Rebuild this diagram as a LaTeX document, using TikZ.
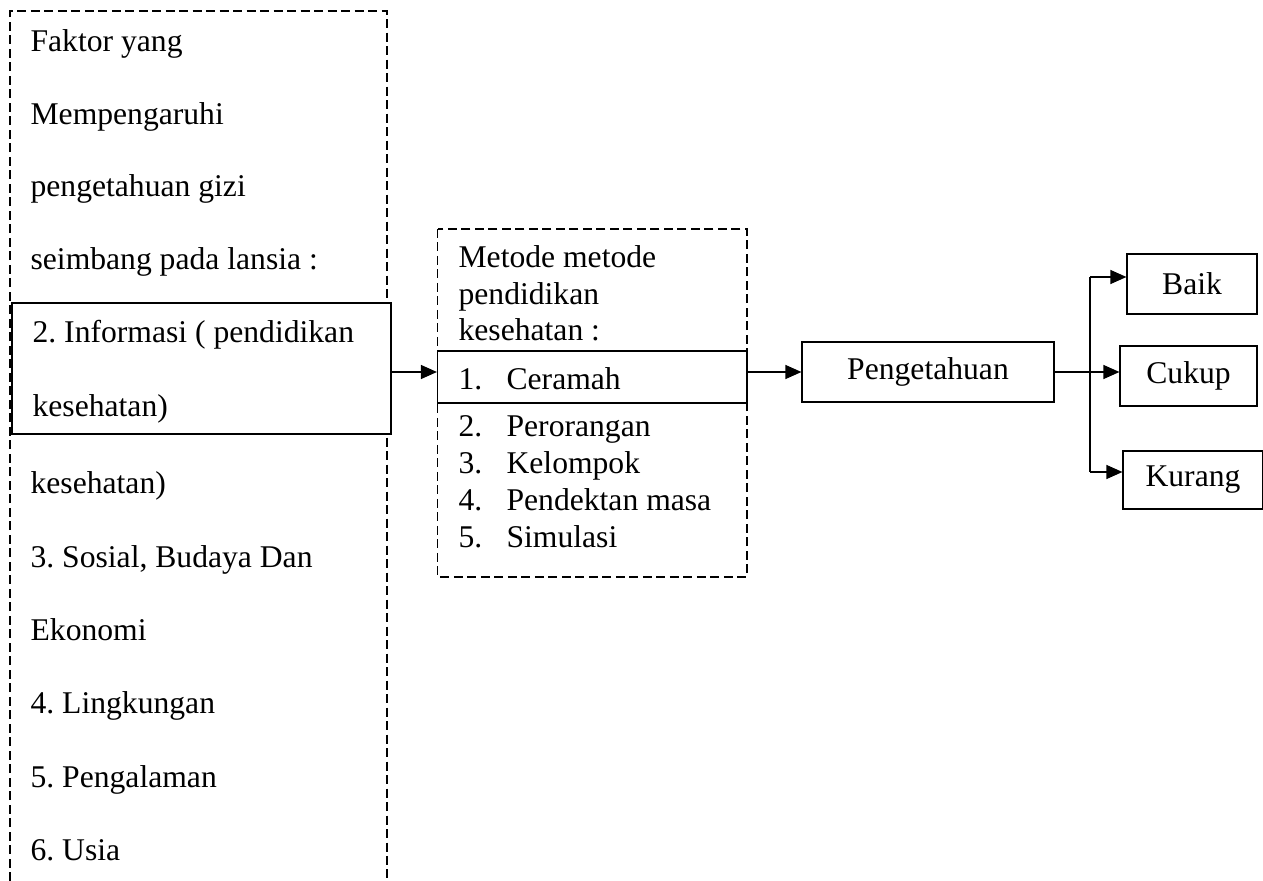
\documentclass[tikz,border=0pt]{standalone}
\usepackage{fontspec}
\setmainfont{Liberation Serif}
\usetikzlibrary{arrows.meta}
\frenchspacing

\begin{document}
\begin{tikzpicture}[x=0.02cm,y=-0.02cm,
  line width=0.7pt,
  font=\fontsize{18}{22}\selectfont,
  dashbox/.style={dash pattern=on 0.18cm off 0.09cm},
  txt/.style={anchor=base west,inner sep=0pt},
  box/.style={draw,fill=white,inner sep=0pt},
  arr/.style={-{Triangle[length=0.32cm,width=0.28cm]}}]
\useasboundingbox (0,0) rectangle (1263,881);

% faktor (dashed, open at the bottom)
\draw[dashbox] (10,881) -- (10,11) -- (387,11) -- (387,881);
\node[txt] (f1) at (30,52) {Faktor yang};
\node[txt] (f2) at (30,125) {Mempengaruhi};
\node[txt] (f3) at (30,197) {pengetahuan gizi};
\node[txt] (f4) at (30,270) {seimbang pada lansia :};
\node[box,minimum width=7.58cm,minimum height=2.62cm] (info) at (201.5,368.5) {};
\node[txt] (i1) at (32,343) {2. Informasi ( pendidikan};
\node[txt] (i2) at (32,417) {kesehatan)};
\node[txt] (f5) at (30,493) {kesehatan)};
\node[txt] (f6) at (30,567) {3. Sosial, Budaya Dan};
\node[txt] (f7) at (30,640) {Ekonomi};
\node[txt] (f8) at (30,713) {4. Lingkungan};
\node[txt] (f9) at (30,787) {5. Pengalaman};
\node[txt] (f10) at (30,860) {6. Usia};

% metode
\draw[dashbox] (437.5,229) rectangle (747,577);
\node[txt] (m1) at (458,268) {Metode metode};
\node[txt] (m2) at (458,305) {pendidikan};
\node[txt] (m3) at (458,341) {kesehatan :};
\node[box,minimum width=6.19cm,minimum height=1.04cm] (ceramah) at (592.25,377) {};
\node[txt] (c1) at (458,390) {\makebox[0.96cm][l]{1.}Ceramah};
\node[txt] (c2) at (458,436) {\makebox[0.96cm][l]{2.}Perorangan};
\node[txt] (c3) at (458,473) {\makebox[0.96cm][l]{3.}Kelompok};
\node[txt] (c4) at (458,510) {\makebox[0.96cm][l]{4.}Pendektan masa};
\node[txt] (c5) at (458,547) {\makebox[0.96cm][l]{5.}Simulasi};

% hasil
\node[box,minimum width=5.04cm,minimum height=1.2cm] (tahu) at (928,372) {Pengetahuan};
\node[box,minimum width=2.6cm,minimum height=1.2cm] (baik) at (1192,284) {Baik};
\node[box,minimum width=2.74cm,minimum height=1.2cm] (cukup) at (1188.5,376) {Cukup};
\node[box,minimum width=2.8cm,minimum height=1.16cm] (kurang) at (1193,480) {Kurang};

\coordinate (fork) at (1090,372);
\coordinate (forkb) at (1090,277);
\coordinate (forkk) at (1090,472);

\draw[arr] (info.east |- tahu.west) -- (ceramah.west |- tahu.west);
\draw[arr] (ceramah.east |- tahu.west) -- (tahu.west);
\draw[line width=1.3pt] (tahu.east) -- (fork);
\draw (forkb) -- (forkk);
\draw[arr] (forkb) -- (forkb -| baik.west);
\draw[arr] (fork) -- (fork -| cukup.west);
\draw[arr] (forkk) -- (forkk -| kurang.west);
\end{tikzpicture}
\end{document}
